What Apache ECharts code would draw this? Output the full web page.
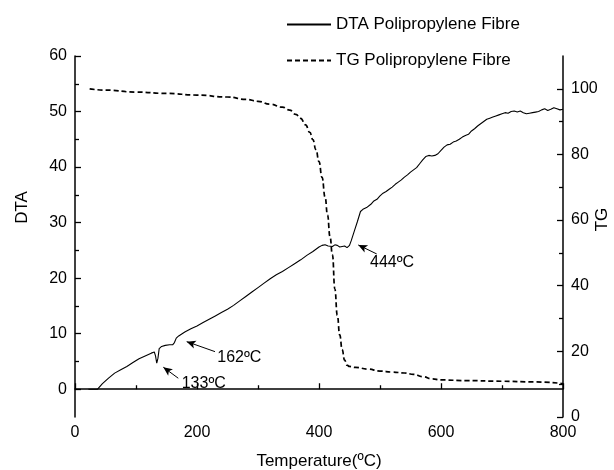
<!DOCTYPE html>
<html>
<head>
<meta charset="utf-8">
<script src="https://cdn.jsdelivr.net/npm/echarts@6/dist/echarts.min.js"></script>
<style>html,body{margin:0;padding:0;background:#fff;}#c{width:614px;height:470px;}</style>
</head>
<body>
<div id="c"></div>
<script>
// ---- data ----
const dtaTemp = [22,30,37,45,55,65,75,85,95,105,115,125,130,132,134,136,138,142,148,155,160,163,166,170,180,190,200,210,220,230,240,250,260,270,280,290,300,310,320,330,340,350,360,370,380,390,400,405,410,415,418,422,426,430,434,438,442,446,450,453,458,463,468,472,478,485,490,495,500,505,510,515,520,525,530,535,540,545,550,555,560,565,570,575,580,585,590,595,600,605,610,615,620,625,630,635,640,645,650,655,660,665,670,675,680,685,690,695,700,705,710,715,720,725,730,735,740,745,750,755,760,765,770,775,780,785,790,795,800];
const dtaValue = [0,0,0,1.0,2.0,2.9,3.5,4.1,4.8,5.5,6.0,6.5,6.7,6.0,4.7,5.6,7.3,7.7,7.9,8.0,8.0,8.4,9.2,9.6,10.3,10.9,11.4,12.0,12.6,13.2,13.8,14.4,15.1,15.9,16.7,17.5,18.3,19.1,19.9,20.6,21.2,21.9,22.6,23.3,24.1,24.8,25.6,25.9,26.0,25.8,26.1,25.7,26.0,25.9,25.6,25.7,25.8,25.5,25.9,26.8,28.5,30.2,32.0,32.4,32.7,33.3,33.9,34.2,34.8,35.3,35.6,36.0,36.4,36.9,37.3,37.7,38.2,38.6,39.1,39.5,39.9,40.6,41.3,41.9,42.1,42.0,42.1,42.4,43.0,43.6,44.0,44.1,44.5,44.7,45.0,45.4,45.7,45.9,46.5,46.9,47.4,47.8,48.2,48.6,48.8,49.0,49.2,49.4,49.6,49.8,49.7,50.0,50.1,49.9,50.1,49.8,49.6,49.7,49.8,49.9,50.0,50.3,50.5,50.2,50.4,50.7,50.5,50.3,50.4];
const tgTemp = [24,50,100,150,200,250,280,300,320,340,352,362,370,378,385,390,395,400,405,410,414,418,422,426,430,434,438,442,446,450,460,480,500,520,540,555,570,585,600,640,700,750,800];
const tgValue = [100,99.6,99.0,98.6,98.1,97.5,96.8,96.2,95.3,94.4,93.5,92.2,91.0,89.0,86.7,84.5,81.5,77.8,73.0,67.0,61.5,55.0,49.5,39.0,31.0,25.0,20.5,17.3,15.8,15.4,15.1,14.6,14.0,13.7,13.4,13.0,12.3,11.6,11.3,11.1,10.9,10.7,10.2];

const xTicks = [0,200,400,600,800];
const dtaTicks = [0,10,20,30,40,50,60];
const dtaMinorTicks = [5,15,25,35,45,55];
const tgTicks = [0,20,40,60,80,100];
const tgMinorTicks = [10,30,50,70,90];

const seriesNames = ['DTA Polipropylene Fibre','TG Polipropylene Fibre'];
// annotations (in data units of the DTA axis)
const annoLabels = ['133ºC','162ºC','444ºC'];
const annoTextPos = [[174.9,0.95],[233.3,5.72],[483.6,22.83]];
const annoArrowTail = [[169.3,1.98],[229.5,6.77],[494.6,24.36]];
const annoArrowHead = [[144.8,3.96],[183.1,8.57],[464.4,25.98]];

// ---- chart ----
const FONT = 'Liberation Sans';
const ink = '#000';
const zip = (a,b)=>a.map((v,i)=>[v,b[i]]);

const chart = echarts.init(document.getElementById('c'), null, {renderer:'canvas'});

const tickStyle = {color: ink, width: 1.3};
const labelStyle = {color: ink, fontFamily: FONT, fontSize: 16};

chart.setOption({
  animation: false,
  backgroundColor: '#fff',
  textStyle: {fontFamily: FONT},
  grid: {left: 75, right: 51, top: 56, bottom: 53, containLabel: false, outerBoundsMode: 'none'},
  legend: {
    orient: 'vertical', left: 281, top: 11,
    itemWidth: 44, itemHeight: 10, itemGap: 19,
    data: seriesNames,
    itemStyle: {opacity: 0},
    textStyle: {fontFamily: FONT, fontSize: 17, color: ink},
    inactiveColor: '#000'
  },
  xAxis: {
    type: 'value', min: 0, max: 800, interval: 200,
    name: 'Temperature(ºC)', nameLocation: 'middle', nameGap: 36,
    nameTextStyle: {fontFamily: FONT, fontSize: 17, color: ink},
    axisLine: {lineStyle: {color: ink, width: 1.5}},
    axisTick: {inside: true, length: 6, lineStyle: tickStyle},
    minorTick: {show: true, splitNumber: 2, length: 4, lineStyle: tickStyle},
    axisLabel: Object.assign({margin: 8, customValues: xTicks}, labelStyle),
    splitLine: {show: false}, minorSplitLine: {show: false}
  },
  yAxis: [
    {
      type: 'value', position: 'left', min: -5, max: 60,
      name: 'DTA', nameLocation: 'middle', nameGap: 44, nameRotate: 90,
      nameTextStyle: {fontFamily: FONT, fontSize: 17, color: ink, padding: [0,0,0,58]},
      axisLine: {show: true, lineStyle: {color: ink, width: 1.5}},
      axisTick: {show: true, inside: true, length: 6, lineStyle: tickStyle, customValues: dtaTicks},
      axisLabel: Object.assign({margin: 8, customValues: dtaTicks}, labelStyle),
      splitLine: {show: false}
    },
    {
      type: 'value', position: 'left', min: -5, max: 60,
      axisLine: {show: false},
      axisTick: {show: true, inside: true, length: 4, lineStyle: tickStyle, customValues: dtaMinorTicks},
      axisLabel: {show: false},
      splitLine: {show: false}
    },
    {
      type: 'value', position: 'right', min: 0, max: 110,
      name: 'TG', nameLocation: 'middle', nameGap: 31, nameRotate: 90, nameMoveOverlap: false,
      nameTextStyle: {fontFamily: FONT, fontSize: 17, color: ink, padding: [0,0,0,34]},
      axisLine: {show: true, lineStyle: {color: ink, width: 1.5}},
      axisTick: {show: true, inside: true, length: 6, lineStyle: tickStyle, customValues: tgTicks},
      axisLabel: Object.assign({margin: 8, customValues: tgTicks}, labelStyle),
      splitLine: {show: false}
    },
    {
      type: 'value', position: 'right', min: 0, max: 110,
      axisLine: {show: false},
      axisTick: {show: true, inside: true, length: 4, lineStyle: tickStyle, customValues: tgMinorTicks},
      axisLabel: {show: false},
      splitLine: {show: false}
    }
  ],
  series: [
    {
      name: seriesNames[0], type: 'line', yAxisIndex: 0,
      data: zip(dtaTemp, dtaValue),
      symbol: 'none', smooth: false,
      lineStyle: {color: ink, width: 1.1},
      itemStyle: {color: ink, opacity: 0},
      markLine: {
        silent: true, symbol: ['none','arrow'], symbolSize: [6, 9],
        label: {show: false},
        lineStyle: {color: ink, width: 1, type: 'solid'},
        itemStyle: {color: ink, opacity: 1},
        data: annoArrowTail.map((t,i)=>[{coord: t}, {coord: annoArrowHead[i]}])
      },
      markPoint: {
        silent: true, symbol: 'circle', symbolSize: 0,
        data: annoTextPos.map((p,i)=>({
          coord: p,
          label: {show: true, formatter: annoLabels[i], position: 'right', distance: 0,
                  color: ink, fontFamily: FONT, fontSize: 16}
        }))
      }
    },
    {
      name: seriesNames[1], type: 'line', yAxisIndex: 2,
      data: zip(tgTemp, tgValue),
      symbol: 'none', smooth: true, smoothMonotone: 'x',
      lineStyle: {color: ink, width: 1.7, type: [5, 3]},
      itemStyle: {color: ink, opacity: 0}
    }
  ]
});
</script>
</body>
</html>
